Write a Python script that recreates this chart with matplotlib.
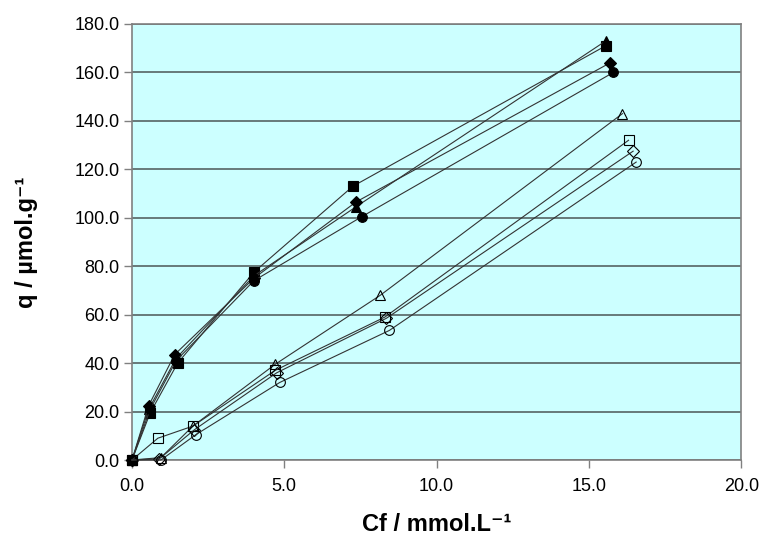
import matplotlib
matplotlib.use("Agg")
import matplotlib.pyplot as plt
from matplotlib.ticker import FormatStrFormatter, MultipleLocator

plt.rcParams['font.family'] = ['Liberation Sans', 'DejaVu Sans']

# Isotherm data: equilibrium concentration Cf (mmol/L) vs uptake q (umol/g)
cf_sq_f = [0.0, 0.6, 1.5, 4.0, 7.25, 15.55]
q_sq_f = [0.0, 19.5, 40.0, 77.5, 113.0, 171.0]

cf_tri_f = [0.0, 0.55, 1.45, 4.0, 7.35, 15.55]
q_tri_f = [0.0, 21.0, 42.0, 76.0, 104.5, 173.0]

cf_dia_f = [0.0, 0.55, 1.4, 4.0, 7.35, 15.7]
q_dia_f = [0.0, 22.5, 43.5, 75.0, 106.5, 164.0]

cf_cir_f = [0.0, 0.6, 1.45, 4.0, 7.55, 15.8]
q_cir_f = [0.0, 21.0, 41.0, 74.0, 100.5, 160.0]

cf_tri_o = [0.0, 0.95, 2.0, 4.7, 8.15, 16.1]
q_tri_o = [0.0, 1.0, 14.0, 39.5, 68.0, 143.0]

cf_sq_o = [0.0, 0.85, 2.0, 4.7, 8.3, 16.3]
q_sq_o = [0.0, 9.0, 14.0, 37.0, 59.0, 132.0]

cf_dia_o = [0.0, 0.9, 2.05, 4.75, 8.35, 16.45]
q_dia_o = [0.0, 0.5, 12.5, 36.0, 58.5, 127.5]

cf_cir_o = [0.0, 0.95, 2.1, 4.85, 8.45, 16.55]
q_cir_o = [0.0, 0.0, 10.5, 32.0, 53.5, 123.0]

series = [
    (cf_sq_f, q_sq_f, 's', 'black'),
    (cf_tri_f, q_tri_f, '^', 'black'),
    (cf_dia_f, q_dia_f, 'D', 'black'),
    (cf_cir_f, q_cir_f, 'o', 'black'),
    (cf_tri_o, q_tri_o, '^', 'none'),
    (cf_sq_o, q_sq_o, 's', 'none'),
    (cf_dia_o, q_dia_o, 'D', 'none'),
    (cf_cir_o, q_cir_o, 'o', 'none'),
]

fig = plt.figure(figsize=(7.65, 5.44), dpi=100)
ax = fig.add_axes([0.1725, 0.1544, 0.7965, 0.8015])
ax.set_facecolor('#CCFFFF')

ax.set_xlim(0, 20)
ax.set_ylim(0, 180)
ax.xaxis.set_major_locator(MultipleLocator(5))
ax.yaxis.set_major_locator(MultipleLocator(20))
ax.xaxis.set_major_formatter(FormatStrFormatter('%.1f'))
ax.yaxis.set_major_formatter(FormatStrFormatter('%.1f'))

ax.grid(axis='y', color='#5f7070', linewidth=1.3, zorder=1)
ax.set_axisbelow(True)

for cf, q, m, fc in series:
    ms = 6 if m == 'D' else 7
    ax.plot(cf, q, color='#333333', linewidth=0.8, marker=m,
            markersize=ms, markerfacecolor=fc, markeredgecolor='black',
            markeredgewidth=0.8, zorder=3, clip_on=False)

for side in ['top', 'right', 'left', 'bottom']:
    ax.spines[side].set_color('#808080')
    ax.spines[side].set_linewidth(1.2)

ax.tick_params(axis='both', direction='out', length=6, width=1.0,
               color='#808080', labelsize=13, labelcolor='black')
ax.tick_params(axis='x', pad=7)
ax.tick_params(axis='y', pad=3)

ax.set_xlabel('Cf / mmol.L⁻¹', fontsize=17, fontweight='bold', labelpad=13)
ax.set_ylabel('q / µmol.g⁻¹', fontsize=17, fontweight='bold', labelpad=26)

fig.savefig('out.png', dpi=100, facecolor='white')
